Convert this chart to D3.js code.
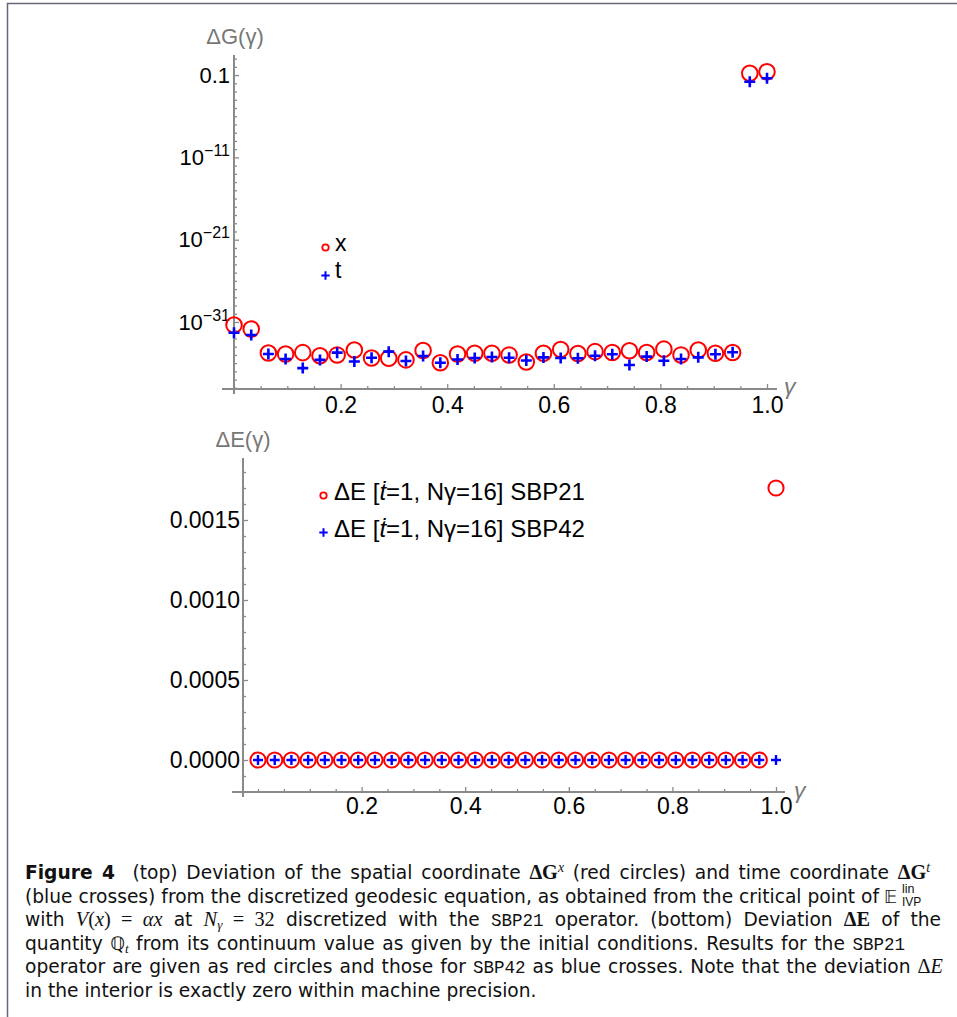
<!DOCTYPE html>
<html>
<head>
<meta charset="utf-8">
<script src="https://cdn.jsdelivr.net/npm/d3@7"></script>
<style>
  body { margin: 0; background: #fff; }
  svg text { font-family: "Liberation Sans", Arial, sans-serif; }
</style>
</head>
<body>
<svg id="fig" width="957" height="1017"></svg>
<script>
// grid points gamma_k = k/31, N = 32
const gamma = [0, 0.0323, 0.0645, 0.0968, 0.1290, 0.1613, 0.1935, 0.2258, 0.2581, 0.2903,
  0.3226, 0.3548, 0.3871, 0.4194, 0.4516, 0.4839, 0.5161, 0.5484, 0.5806, 0.6129,
  0.6452, 0.6774, 0.7097, 0.7419, 0.7742, 0.8065, 0.8387, 0.8710, 0.9032, 0.9355,
  0.9677, 1.0];

// top: deviation of the geodesic equation (log scale)
const dGx = [4.4e-32, 1.4e-32, 1.7e-35, 1.3e-35, 1.9e-35, 7.9e-36, 1.0e-35, 4.0e-35, 4.3e-36, 4.0e-36,
  2.5e-36, 3.5e-35, 1.1e-36, 1.3e-35, 1.6e-35, 1.6e-35, 1.0e-35, 1.4e-36, 1.6e-35, 4.6e-35,
  1.5e-35, 2.5e-35, 2.0e-35, 3.2e-35, 2.0e-35, 5.0e-35, 1.0e-35, 4.0e-35, 1.6e-35, 2.0e-35,
  0.166, 0.257];
const dGt = [5.0e-33, 2.6e-33, 1.3e-35, 3.2e-36, 2.5e-37, 2.5e-36, 1.9e-35, 1.6e-36, 4.6e-36, 2.5e-35,
  1.8e-36, 7.4e-36, 1.1e-36, 2.8e-36, 4.3e-36, 5.6e-36, 4.6e-36, 2.1e-36, 5.0e-36, 4.3e-36,
  4.0e-36, 7.9e-36, 1.2e-35, 6.0e-37, 6.3e-36, 2.0e-36, 3.2e-36, 5.1e-36, 1.2e-35, 2.1e-35,
  0.0158, 0.041];

// bottom: deviation of Q_t
const dE21 = [0, 0, 0, 0, 0, 0, 0, 0, 0, 0, 0, 0, 0, 0, 0, 0,
  0, 0, 0, 0, 0, 0, 0, 0, 0, 0, 0, 0, 0, 0, 0, 0.0017];
const dE42 = [0, 0, 0, 0, 0, 0, 0, 0, 0, 0, 0, 0, 0, 0, 0, 0,
  0, 0, 0, 0, 0, 0, 0, 0, 0, 0, 0, 0, 0, 0, 0, 0];

const xTicks = [0.2, 0.4, 0.6, 0.8, 1.0];
const xMinor = [0, 0.05, 0.1, 0.15, 0.25, 0.3, 0.35, 0.45, 0.5, 0.55, 0.65, 0.7, 0.75, 0.85, 0.9, 0.95];
const gTicks = [1e-1, 1e-11, 1e-21, 1e-31];
const gMinorExp = d3.range(-39, 2).filter(e => (e + 1) % 10 !== 0);
const eTicks = [0, 0.0005, 0.0010, 0.0015];
const eMinor = [-0.0001, 0.0001, 0.0002, 0.0003, 0.0004, 0.0006, 0.0007, 0.0008, 0.0009,
  0.0011, 0.0012, 0.0013, 0.0014, 0.0016, 0.0017, 0.0018];
const topLegend = ['x', 't'];
const botLegend = ['SBP21', 'SBP42'];

const RED = '#ff0000', BLUE = '#0000ff', AX = '#8a8a8a';
const svg = d3.select('#fig');

// frame
svg.append('path').attr('d', 'M7.5,1017V3.5H957')
  .attr('fill', 'none').attr('stroke', '#66667a').attr('stroke-width', 1.5);

function crossPath(h) { return `M${-h},0H${h}M0,${-h}V${h}`; }

function cleanAxis(g) {
  g.select('.domain').remove();
  g.selectAll('.tick line').attr('stroke', AX).attr('stroke-width', 1.3);
  g.selectAll('.tick text').attr('fill', '#000').attr('font-size', 23)
    .attr('font-family', '"Liberation Sans", Arial, sans-serif');
}

// ---------- top panel ----------
const xT = d3.scaleLinear().domain([0, 1]).range([234, 767]);
const yT = d3.scaleLog().domain([Math.pow(10, -39.14), Math.pow(10, 1.44)]).range([389, 55]);
const topG = svg.append('g');

topG.append('g').attr('transform', 'translate(0,389)')
  .call(d3.axisBottom(xT).tickValues(xMinor).tickSize(-3).tickFormat(''))
  .call(cleanAxis);
topG.append('g').attr('transform', 'translate(0,389)')
  .call(d3.axisBottom(xT).tickValues(xTicks).tickSize(-5).tickPadding(8).tickFormat(d3.format('.1f')))
  .call(cleanAxis);
topG.append('g').attr('transform', 'translate(234,0)')
  .call(d3.axisLeft(yT).tickValues(gMinorExp.map(e => Math.pow(10, e))).tickSize(-3).tickFormat(''))
  .call(cleanAxis);
const gy = topG.append('g').attr('transform', 'translate(234,0)')
  .call(d3.axisLeft(yT).tickValues(gTicks).tickSize(-5).tickPadding(4).tickFormat(() => ''))
  .call(cleanAxis);
gy.selectAll('.tick text').attr('font-size', 22).each(function (d) {
  const t = d3.select(this);
  const e = Math.round(Math.log10(d));
  if (e === -1) { t.append('tspan').text('0.1'); return; }
  t.append('tspan').text('10');
  t.append('tspan').attr('dy', -9).attr('font-size', 16).text('\u2212' + Math.abs(e));
});

topG.append('line').attr('x1', 222).attr('x2', 777).attr('y1', 389).attr('y2', 389)
  .attr('stroke', AX).attr('stroke-width', 2);
topG.append('line').attr('x1', 234).attr('x2', 234).attr('y1', 55).attr('y2', 394)
  .attr('stroke', AX).attr('stroke-width', 2);

topG.append('text').attr('x', 235).attr('y', 44).attr('text-anchor', 'middle')
  .attr('fill', '#777').attr('font-size', 22).text('ΔG(γ)');
topG.append('text').attr('x', 784).attr('y', 394).attr('fill', '#777')
  .attr('font-size', 23).attr('font-style', 'italic').text('γ');

topG.selectAll('.cx').data(gamma).join('circle')
  .attr('cx', d => xT(d)).attr('cy', (d, i) => yT(dGx[i])).attr('r', 7.8)
  .attr('fill', 'none').attr('stroke', RED).attr('stroke-width', 2);
topG.selectAll('.ct').data(gamma).join('path')
  .attr('transform', (d, i) => `translate(${xT(d)},${yT(dGt[i])})`)
  .attr('d', crossPath(5.5)).attr('stroke', BLUE).attr('stroke-width', 2.6);

// legend (top)
topG.append('circle').attr('cx', 325.5).attr('cy', 247.5).attr('r', 3.2)
  .attr('fill', 'none').attr('stroke', RED).attr('stroke-width', 1.8);
topG.append('path').attr('transform', 'translate(325.5,275.5)').attr('d', crossPath(4.2))
  .attr('stroke', BLUE).attr('stroke-width', 2);
topG.selectAll('.lg').data(topLegend).join('text')
  .attr('x', 335).attr('y', (d, i) => 251 + i * 27).attr('font-size', 23).text(d => d);

// ---------- bottom panel ----------
const xB = d3.scaleLinear().domain([0, 1]).range([258, 776]);
const yB = d3.scaleLinear().domain([0, 0.0015]).range([760, 520]);
const botG = svg.append('g');

botG.append('g').attr('transform', 'translate(0,792)')
  .call(d3.axisBottom(xB).tickValues(xMinor).tickSize(-3).tickFormat(''))
  .call(cleanAxis);
botG.append('g').attr('transform', 'translate(0,792)')
  .call(d3.axisBottom(xB).tickValues(xTicks).tickSize(-5).tickPadding(6).tickFormat(d3.format('.1f')))
  .call(cleanAxis);
botG.append('g').attr('transform', 'translate(243,0)')
  .call(d3.axisLeft(yB).tickValues(eMinor).tickSize(-3).tickFormat(''))
  .call(cleanAxis);
botG.append('g').attr('transform', 'translate(243,0)')
  .call(d3.axisLeft(yB).tickValues(eTicks).tickSize(-5).tickPadding(3).tickFormat(d3.format('.4f')))
  .call(cleanAxis);

botG.append('line').attr('x1', 232).attr('x2', 785).attr('y1', 792).attr('y2', 792)
  .attr('stroke', AX).attr('stroke-width', 2);
botG.append('line').attr('x1', 243).attr('x2', 243).attr('y1', 458).attr('y2', 797)
  .attr('stroke', AX).attr('stroke-width', 2);

botG.append('text').attr('x', 243).attr('y', 447).attr('text-anchor', 'middle')
  .attr('fill', '#777').attr('font-size', 22).text('ΔE(γ)');
botG.append('text').attr('x', 794).attr('y', 798).attr('fill', '#777')
  .attr('font-size', 23).attr('font-style', 'italic').text('γ');

botG.selectAll('.ex').data(gamma).join('circle')
  .attr('cx', d => xB(d)).attr('cy', (d, i) => yB(dE21[i])).attr('r', 7.6)
  .attr('fill', 'none').attr('stroke', RED).attr('stroke-width', 2);
botG.selectAll('.et').data(gamma).join('path')
  .attr('transform', (d, i) => `translate(${xB(d)},${yB(dE42[i])})`)
  .attr('d', crossPath(5)).attr('stroke', BLUE).attr('stroke-width', 2.4);

// legend (bottom)
botG.append('circle').attr('cx', 323.5).attr('cy', 495.5).attr('r', 3.2)
  .attr('fill', 'none').attr('stroke', RED).attr('stroke-width', 1.8);
botG.append('path').attr('transform', 'translate(323.5,532.5)').attr('d', crossPath(4.2))
  .attr('stroke', BLUE).attr('stroke-width', 2);
botLegend.forEach((name, i) => {
  const t = botG.append('text').attr('x', 334).attr('y', 500 + i * 37).attr('font-size', 24);
  t.append('tspan').text('ΔE [');
  t.append('tspan').attr('font-style', 'italic').text('ṫ');
  t.append('tspan').text('=1, Nγ=16] ' + name);
});

// ---------- caption ----------
const SERIF = '"Liberation Serif", serif';
const SANS = '"DejaVu Sans", sans-serif';
const STY = {
  r:   { f: SANS, s: 17, w: 400, i: false, d: 0 },
  b:   { f: SANS, s: 17, w: 700, i: false, d: 0 },
  mb:  { f: SERIF, s: 18.5, w: 700, i: false, d: 0 },
  mr:  { f: SERIF, s: 18.5, w: 400, i: false, d: 0 },
  mi:  { f: SERIF, s: 18.5, w: 400, i: true, d: 0 },
  bb:  { f: SANS, s: 17, w: 400, i: false, d: 0 },
  sup: { f: SERIF, s: 12.5, w: 400, i: true, d: -7 },
  sub: { f: SERIF, s: 12, w: 400, i: true, d: 3 },
  tt:  { f: '"Liberation Mono", monospace', s: 16, w: 400, i: false, d: 0 }
};
const capLines = [
  { y: 879, end: 930, segs: [['b', 'Figure 4'], ['r', '  (top) Deviation of the spatial coordinate '], ['mb', 'ΔG'], ['sup', 'x'],
    ['r', ' (red circles) and time coordinate '], ['mb', 'ΔG'], ['sup', 't']] },
  { y: 902.5, end: 879, segs: [['r', '(blue crosses) from the discretized geodesic equation, as obtained from the critical point of']] },
  { y: 926, end: 941, segs: [['r', 'with '], ['mi', 'V'], ['mr', '('], ['mi', 'x'], ['mr', ') = '], ['mi', 'αx'], ['r', ' at '], ['mi', 'N'],
    ['sub', 'γ'], ['mr', ' = 32'], ['r', ' discretized with the '], ['tt', 'SBP21'], ['r', ' operator. (bottom) Deviation '],
    ['mb', 'ΔE'], ['r', ' of the']] },
  { y: 949.5, end: 905, segs: [['r', 'quantity '], ['bb', 'ℚ'], ['sub', 't'], ['r', ' from its continuum value as given by the initial conditions. Results for the '],
    ['tt', 'SBP21']] },
  { y: 973, end: 943, segs: [['r', 'operator are given as red circles and those for '], ['tt', 'SBP42'], ['r', ' as blue crosses. Note that the deviation '],
    ['mr', 'Δ'], ['mi', 'E']] },
  { y: 996.5, end: null, segs: [['r', 'in the interior is exactly zero within machine precision.']] }
];
const LAST_END = 537;
const cap = svg.append('g');

function drawLine(l, k) {
  const t = cap.append('text').attr('x', 25).attr('y', l.y).style('white-space', 'pre').attr('fill', '#111');
  let shift = 0;
  l.segs.forEach(([key, str]) => {
    const st = STY[key];
    t.append('tspan').attr('dy', st.d - shift).attr('font-family', st.f).attr('font-size', st.s * k)
      .attr('font-weight', st.w).attr('font-style', st.i ? 'italic' : 'normal').text(str);
    shift = st.d;
  });
  return t;
}
// scale caption fonts so the unjustified last line has the reference width
const probe = drawLine(capLines[5], 1);
const kScale = Math.min(1.12, (LAST_END - 25) / probe.node().getComputedTextLength());
probe.remove();

capLines.forEach(l => {
  const t = drawLine(l, kScale);
  if (l.end) {
    // justify by stretching inter-word spaces only
    const nat = t.node().getComputedTextLength();
    const gaps = (t.text().match(/ /g) || []).length;
    t.attr('word-spacing', ((l.end - 25 - nat) / gaps).toFixed(2));
  }
});
cap.append('text').attr('x', 884).attr('y', 902.5).attr('font-family', SANS)
  .attr('font-size', 17.5).attr('fill', '#111').text('𝔼');
cap.append('text').attr('x', 902).attr('y', 893).attr('font-family', SERIF)
  .attr('font-size', 12.5).attr('fill', '#111').text('lin');
cap.append('text').attr('x', 902).attr('y', 906).attr('font-family', SERIF)
  .attr('font-size', 12).attr('fill', '#111').text('IVP');
</script>
</body>
</html>
